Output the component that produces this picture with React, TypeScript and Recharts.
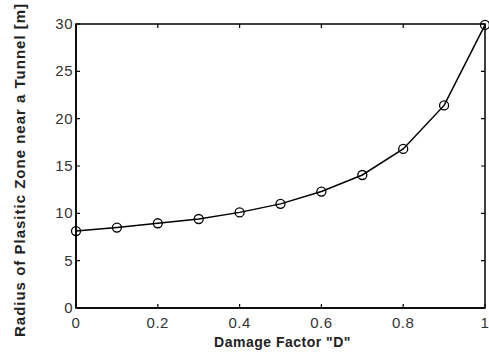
import React from "react";
import { LineChart, Line, XAxis, YAxis, ReferenceArea, ReferenceLine } from "recharts";

// damage factor D vs radius of plastic zone [m]
const damage = [0, 0.1, 0.2, 0.3, 0.4, 0.5, 0.6, 0.7, 0.8, 0.9, 1.0];
const radius = [8.13, 8.5, 8.95, 9.4, 10.1, 11.0, 12.3, 14.05, 16.8, 21.4, 29.9];
const xTicks = [0, 0.2, 0.4, 0.6, 0.8, 1];
const yTicks = [0, 5, 10, 15, 20, 25, 30];

const data = damage.map((d, i) => ({ d, r: radius[i] }));

const FONT = '"Liberation Sans", Arial, sans-serif';
const TICK_LEN = 4;

const fmtX = (v: number) => (v === 0 || v === 1 ? String(v) : v.toFixed(1));

const BottomTick = (props: any) => {
  const { x, y, payload } = props;
  return (
    <text x={x} y={y + 20} textAnchor="middle" fontSize={15} letterSpacing={0.5} fill="#333" fontFamily={FONT}>
      {fmtX(payload.value)}
    </text>
  );
};

const LeftTick = (props: any) => {
  const { x, y, payload } = props;
  return (
    <text x={x - 3} y={y + 5} textAnchor="end" fontSize={15} letterSpacing={0.5} fill="#333" fontFamily={FONT}>
      {payload.value}
    </text>
  );
};

// inward tick marks on both ends of a reference line (matlab style box ticks)
const vTicks = (p: any) => {
  const top = Math.min(p.y1, p.y2);
  const bot = Math.max(p.y1, p.y2);
  return (
    <path
      d={`M${p.x1},${top}v${TICK_LEN}M${p.x1},${bot}v${-TICK_LEN}`}
      stroke="#000"
      strokeWidth={1.2}
      fill="none"
    />
  );
};

const hTicks = (p: any) => {
  const l = Math.min(p.x1, p.x2);
  const r = Math.max(p.x1, p.x2);
  return (
    <path
      d={`M${l},${p.y1}h${TICK_LEN}M${r},${p.y1}h${-TICK_LEN}`}
      stroke="#000"
      strokeWidth={1.2}
      fill="none"
    />
  );
};

export default function App() {
  return (
    <div style={{ position: "absolute", left: 0, top: 0, background: "#fff" }}>
      <LineChart
        width={489}
        height={355}
        data={data}
        margin={{ top: 24, right: 4, bottom: 17, left: 36 }}
      >
        <XAxis
          dataKey="d"
          type="number"
          domain={[0, 1]}
          ticks={xTicks}
          height={30}
          tickSize={0}
          tickMargin={0}
          tickLine={false}
          axisLine={{ stroke: "#000", strokeWidth: 1.5 }}
          tick={<BottomTick />}
          label={{
            content: (p: any) => (
              <text
                x={p.viewBox.x + p.viewBox.width / 2 + 2}
                y={347}
                textAnchor="middle"
                fontSize={14}
                fontWeight="bold"
                letterSpacing={0.5}
                fill="#222"
                fontFamily={FONT}
              >
                Damage Factor "D"
              </text>
            ),
          }}
        />
        <YAxis
          type="number"
          domain={[0, 30]}
          ticks={yTicks}
          width={40}
          tickSize={0}
          tickMargin={0}
          tickLine={false}
          axisLine={{ stroke: "#000", strokeWidth: 1.5 }}
          tick={<LeftTick />}
          label={{
            content: (p: any) => {
              const cx = 25;
              const cy = p.viewBox.y + p.viewBox.height / 2 + 4;
              return (
                <text
                  x={cx}
                  y={cy}
                  transform={`rotate(-90 ${cx} ${cy})`}
                  textAnchor="middle"
                  fontSize={15}
                  fontWeight="bold"
                  letterSpacing={1}
                  fill="#222"
                  fontFamily={FONT}
                >
                  Radius of Plasitic Zone near a Tunnel [m]
                </text>
              );
            },
          }}
        />
        <ReferenceArea
          x1={0}
          x2={1}
          y1={0}
          y2={30}
          fill="none"
          stroke="#000"
          strokeWidth={1.5}
          fillOpacity={0}
          ifOverflow="visible"
        />
        {xTicks.map((t) => (
          <ReferenceLine key={`xt${t}`} x={t} shape={vTicks} ifOverflow="visible" />
        ))}
        {yTicks.map((t) => (
          <ReferenceLine key={`yt${t}`} y={t} shape={hTicks} ifOverflow="visible" />
        ))}
        <Line
          dataKey="r"
          type="linear"
          stroke="#000"
          strokeWidth={1.5}
          dot={{ r: 4.5, stroke: "#000", strokeWidth: 1.3, fill: "none" }}
          activeDot={false}
          isAnimationActive={false}
        />
      </LineChart>
    </div>
  );
}
